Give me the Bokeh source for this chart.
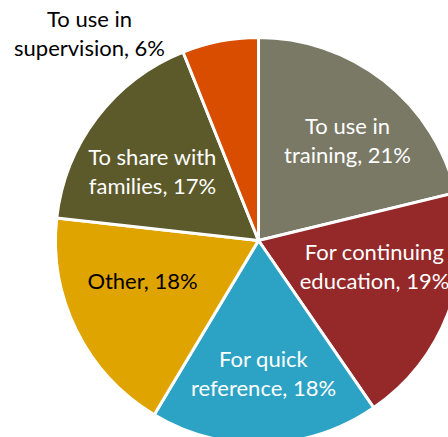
import numpy as np
from bokeh.plotting import figure
from bokeh.models import Range1d
from bokeh.core.properties import value
from bokeh.embed import file_html
from bokeh.resources import INLINE

# Data (clockwise from 12 o'clock)
categories = ["To use in\ntraining, 21%", "For continuing\neducation, 19%",
              "For quick\nreference, 18%", "Other, 18%",
              "To share with\nfamilies, 17%", "To use in\nsupervision, 6%"]
shares = [21, 19, 18, 18, 17, 6]
colors = ["#797966", "#952829", "#2ca3c4", "#e0a400", "#5c5a2a", "#d84d00"]
label_colors = ["white", "white", "white", "black", "white", "black"]

# layout (image pixel coordinates, y measured upward from bottom)
W, H = 448, 437
cx, cy, r = 258, H - 240, 203
label_pos = [(347, 139), (374, 265), (263, 372), (142, 280), (152, 170), (89, 32)]
line_gap = 29

p = figure(width=W, height=H, output_backend="svg", toolbar_location=None,
           x_range=Range1d(0, W), y_range=Range1d(0, H),
           min_border=0)
p.axis.visible = False
p.grid.visible = False
p.outline_line_color = None
p.background_fill_color = "white"

vals = np.array(shares, dtype=float)
cum = np.concatenate([[0], np.cumsum(vals)]) / vals.sum() * 2 * np.pi
start = np.pi / 2 - cum[:-1]
end = np.pi / 2 - cum[1:]

p.wedge(x=[cx] * len(vals), y=[cy] * len(vals), radius=r,
        start_angle=start, end_angle=end, direction="clock",
        fill_color=colors, line_color="white", line_width=3)

for lab, (lx, ly), col in zip(categories, label_pos, label_colors):
    lines = lab.split("\n")
    n = len(lines)
    for i, t in enumerate(lines):
        yy = H - (ly + (i - (n - 1) / 2) * line_gap)
        p.text(x=[lx], y=[yy], text=[t], text_align="center",
               text_baseline="middle", text_color=col,
               text_font=value("Lato"), text_font_size="22px")

open("out.html", "w").write(file_html(p, INLINE))
